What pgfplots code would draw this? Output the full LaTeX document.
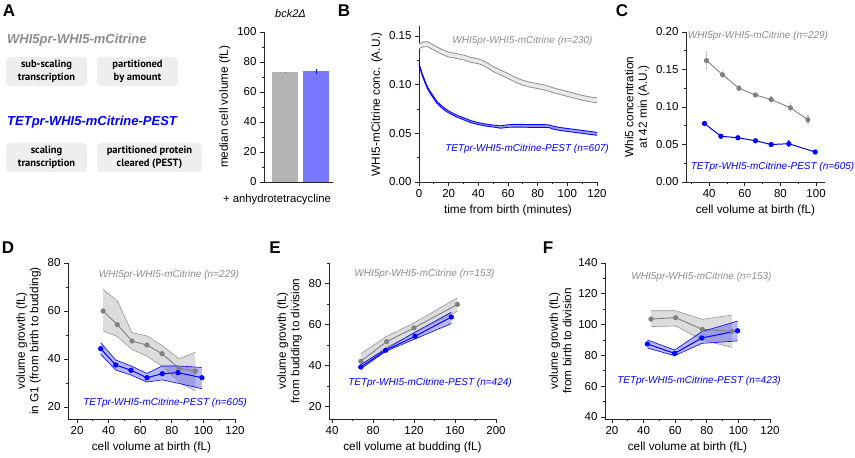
\documentclass[border=0pt]{standalone}
\usepackage{fontspec}
\setmainfont{Liberation Sans}
\newfontfamily\boxfont{PT Sans}
\usepackage{pgfplots}
\usepackage{pgfplotstable}
\usepgfplotslibrary{fillbetween}
\pgfplotsset{compat=1.18}
\definecolor{gline}{HTML}{808080}
\definecolor{gfill}{HTML}{DCDCDC}
\definecolor{gedge}{HTML}{989898}
\definecolor{gtext}{HTML}{8C8C8C}
\definecolor{bline}{HTML}{0000FF}
\definecolor{boxfill}{HTML}{EEEEEE}
\definecolor{gbar}{HTML}{B4B4B4}
\definecolor{bbar}{HTML}{7878FF}

\pgfplotstableread{
t m lo hi
0 0.1395 0.1370 0.1420
3 0.1415 0.1390 0.1440
6 0.1415 0.1390 0.1440
10 0.1380 0.1355 0.1405
15 0.1340 0.1315 0.1365
20 0.1310 0.1285 0.1335
25 0.1295 0.1270 0.1320
30 0.1280 0.1255 0.1305
35 0.1255 0.1230 0.1280
40 0.1240 0.1215 0.1265
43 0.1225 0.1200 0.1250
47 0.1190 0.1165 0.1215
50 0.1160 0.1135 0.1185
55 0.1125 0.1100 0.1150
60 0.1090 0.1065 0.1115
65 0.1050 0.1025 0.1075
70 0.1020 0.0995 0.1045
75 0.1000 0.0975 0.1025
80 0.0985 0.0960 0.1010
85 0.0970 0.0945 0.0995
90 0.0945 0.0920 0.0970
95 0.0925 0.0900 0.0950
100 0.0905 0.0880 0.0930
105 0.0885 0.0860 0.0910
110 0.0865 0.0840 0.0890
115 0.0850 0.0825 0.0875
120 0.0840 0.0815 0.0865
}\Bgray
\pgfplotstableread{
t m lo hi
0 0.1210 0.1200 0.1220
1 0.1160 0.1150 0.1170
2 0.1110 0.1100 0.1120
4 0.1030 0.1020 0.1040
6 0.0960 0.0950 0.0970
8 0.0910 0.0900 0.0920
10 0.0865 0.0855 0.0875
12 0.0820 0.0810 0.0830
15 0.0775 0.0765 0.0785
18 0.0740 0.0730 0.0750
20 0.0720 0.0710 0.0730
25 0.0680 0.0670 0.0690
30 0.0650 0.0640 0.0660
35 0.0620 0.0610 0.0630
40 0.0600 0.0590 0.0610
45 0.0585 0.0575 0.0595
50 0.0575 0.0565 0.0585
55 0.0565 0.0553 0.0577
60 0.0575 0.0562 0.0588
65 0.0578 0.0564 0.0592
70 0.0578 0.0564 0.0592
75 0.0575 0.0561 0.0589
80 0.0575 0.0561 0.0589
85 0.0575 0.0561 0.0589
88 0.0572 0.0558 0.0586
90 0.0560 0.0545 0.0575
95 0.0545 0.0530 0.0560
100 0.0535 0.0520 0.0550
105 0.0525 0.0510 0.0540
110 0.0515 0.0500 0.0530
115 0.0505 0.0490 0.0520
120 0.0495 0.0480 0.0510
}\Bblue
\pgfplotstableread{
x m e
38.5 0.162 0.013
47.5 0.143 0.005
56.7 0.125 0.004
66.0 0.116 0.003
74.8 0.110 0.004
85.6 0.099 0.006
95.4 0.083 0.006
}\Cgray
\pgfplotstableread{
x m e
37.4 0.078 0.003
46.6 0.061 0.002
56.1 0.059 0.002
66.0 0.055 0.002
74.8 0.050 0.002
84.7 0.051 0.005
99.5 0.040 0.003
}\Cblue
\pgfplotstableread{
x m lo hi
36.5 60.0 51.7 69.0
45.5 54.3 49.4 64.2
54.8 47.5 44.0 51.0
64.3 45.8 41.2 49.6
73.8 42.2 37.0 45.6
84.6 36.1 30.3 40.1
94.9 34.9 26.7 42.8
}\Dgray
\pgfplotstableread{
x m lo hi
35.0 44.3 42.0 46.8
44.5 37.5 35.4 39.6
54.2 35.3 33.3 37.1
64.3 32.2 30.4 34.0
74.0 33.9 31.3 37.1
83.9 34.3 29.9 37.1
99.1 32.2 27.6 36.5
}\Dblue
\pgfplotstableread{
x m lo hi
68.0 42.1 40.0 45.7
93.3 51.7 49.1 54.3
120.0 58.4 55.6 60.8
162.3 69.8 66.5 73.0
}\Egray
\pgfplotstableread{
x m lo hi
68.0 39.3 38.4 40.5
92.4 47.5 47.0 48.1
121.0 54.3 53.0 56.3
156.4 63.7 60.5 66.0
}\Eblue
\pgfplotstableread{
x m lo hi
44.7 103.6 98.7 109.0
60.3 104.5 99.1 109.0
77.2 96.9 90.0 103.4
95.9 95.6 85.2 106.2
}\Fgray
\pgfplotstableread{
x m lo hi
42.4 87.4 84.8 90.0
59.7 81.3 79.8 83.5
76.8 91.3 87.8 95.4
99.5 96.0 89.4 102.3
}\Fblue

\pgfplotsset{
  panel/.style={scale only axis, anchor=south west, clip=false,
    axis lines*=left, axis line style={line width=0.8pt, black!85, -},
    tick align=outside, major tick length=4pt, minor tick length=2.4pt,
    every tick/.style={line width=0.8pt, black!85},
    ticklabel style={font=\fontsize{11.5}{13}\selectfont},
    label style={font=\fontsize{11.8}{13.5}\selectfont},
    /pgf/number format/assume math mode=true},
}
\newcommand{\band}[4]{% table, name, fillstyle, edgestyle
  \addplot[draw=none, name path=#2u] table[x index=0, y=hi]{#1};
  \addplot[draw=none, name path=#2l] table[x index=0, y=lo]{#1};
  \addplot[#3] fill between[of=#2u and #2l];
  \addplot[#4] table[x index=0, y=hi]{#1};
  \addplot[#4] table[x index=0, y=lo]{#1};
}
\newcommand{\lab}[1]{\fontsize{10}{12}\selectfont\itshape #1}

\begin{document}
\begin{tikzpicture}[x=1pt,y=1pt]
% ---------- Panel A text ----------
\node[font=\fontsize{17}{20}\selectfont\bfseries] at (9,447) {A};
\node[anchor=west, inner sep=0, text=gtext, font=\fontsize{13}{15}\selectfont\bfseries\itshape] at (7,418) {WHI5pr-WHI5-mCitrine};
\node[anchor=west, inner sep=0, text=bline, font=\fontsize{13}{15}\selectfont\bfseries\itshape] at (7,336) {TETpr-WHI5-mCitrine-PEST};
\fill[boxfill, rounded corners=4pt] (6,372) rectangle (87,401);
\fill[boxfill, rounded corners=4pt] (97,372) rectangle (178,401);
\fill[boxfill, rounded corners=4pt] (6,286) rectangle (87,315);
\fill[boxfill, rounded corners=4pt] (97,286) rectangle (202,315);
\node[align=center, font=\boxfont\bfseries\fontsize{10.5}{12.5}\selectfont] at (46.5,386.5) {sub-scaling\\transcription};
\node[align=center, font=\boxfont\bfseries\fontsize{10.5}{12.5}\selectfont] at (137.5,386.5) {partitioned\\by amount};
\node[align=center, font=\boxfont\bfseries\fontsize{10.5}{12.5}\selectfont] at (46.5,300.5) {scaling\\transcription};
\node[align=center, font=\boxfont\bfseries\fontsize{10.5}{12.5}\selectfont] at (149.5,300.5) {partitioned protein\\cleared (PEST)};
\node[font=\fontsize{11}{13}\selectfont\itshape] at (290.5,444) {bck2Δ};
\node[font=\fontsize{11.3}{13}\selectfont] at (277,258) {+ anhydrotetracycline};
% ---------- Panel A bars ----------
\begin{axis}[panel, at={(264pt,276pt)}, width=69pt, height=150pt,
  xmin=264, xmax=333, ymin=0, ymax=100, xtick=\empty,
  ytick={0,20,40,60,80,100}, minor ytick={10,30,50,70,90},
  ylabel={median cell volume (fL)}]
\addplot[ybar, bar width=26pt, bar shift=0pt, fill=gbar, draw=none,
  error bars/.cd, y dir=both, y explicit, error mark=none,
  error bar style={line width=0.9pt, black!60}] coordinates {(285,73.0) +- (0,0.6)};
\addplot[ybar, bar width=26pt, bar shift=0pt, fill=bbar, draw=none,
  error bars/.cd, y dir=both, y explicit, error mark=none,
  error bar style={line width=1pt, bline}] coordinates {(316,73.8) +- (0,1.5)};
\end{axis}
% ---------- Panel B ----------
\node[font=\fontsize{17}{20}\selectfont\bfseries] at (344,447) {B};
\begin{axis}[panel, at={(419pt,276pt)}, width=178pt, height=155.7pt,
  xmin=0, xmax=120, ymin=0, ymax=0.16,
  xtick={0,20,...,120}, minor xtick={10,30,...,110},
  ytick={0,0.05,0.10,0.15}, minor ytick={0.025,0.075,0.125},
  yticklabel style={/pgf/number format/.cd, fixed, fixed zerofill, precision=2},
  xlabel={time from birth (minutes)}, ylabel={WHI5-mCitrine conc. (A.U.)}]
\band{\Bgray}{bg}{fill=gfill!60}{draw=gline!90, line width=0.8pt}
\band{\Bblue}{bb}{fill=bline!35}{draw=bline, line width=0.9pt}
\end{axis}
\node[text=gtext] at (522.5,417) {\lab{WHI5pr-WHI5-mCitrine (n=230)}};
\node[text=bline] at (527,309) {\lab{TETpr-WHI5-mCitrine-PEST (n=607)}};
% ---------- Panel C ----------
\node[font=\fontsize{17}{20}\selectfont\bfseries] at (622,447) {C};
\begin{axis}[panel, at={(686pt,276pt)}, width=139pt, height=150pt,
  xmin=27, xmax=105, ymin=0, ymax=0.2,
  xtick={40,60,80,100}, minor xtick={30,50,70,90},
  ytick={0,0.05,...,0.2}, minor ytick={0.025,0.075,0.125,0.175},
  yticklabel style={/pgf/number format/.cd, fixed, fixed zerofill, precision=2},
  xlabel={cell volume at birth (fL)},
  ylabel={Whi5 concentration\\at 42 min (A.U.)}, ylabel style={align=center}]
\addplot[gline, line width=0.9pt, mark=*, mark size=2.1pt,
  error bars/.cd, y dir=both, y explicit, error mark=none,
  error bar style={line width=1.6pt, black!25}] table[x=x, y=m, y error=e]{\Cgray};
\addplot[bline, line width=1pt, mark=*, mark size=2.1pt,
  error bars/.cd, y dir=both, y explicit, error mark=none,
  error bar style={line width=1.2pt, bline}] table[x=x, y=m, y error=e]{\Cblue};
\end{axis}
\node[text=gtext] at (758,422) {\lab{WHI5pr-WHI5-mCitrine (n=229)}};
\node[text=bline] at (772.5,291) {\lab{TETpr-WHI5-mCitrine-PEST (n=605)}};
% ---------- Panel D ----------
\node[font=\fontsize{17}{20}\selectfont\bfseries] at (8,210) {D};
\begin{axis}[panel, at={(68pt,39pt)}, width=167pt, height=156pt,
  xmin=14.3, xmax=120, ymin=15, ymax=80,
  xtick={20,40,...,120}, minor xtick={30,50,...,110},
  ytick={20,40,60,80}, minor ytick={30,50,70},
  xlabel={cell volume at birth (fL)},
  ylabel={volume growth (fL)\\in G1 (from birth to budding)}, ylabel style={align=center}]
\band{\Dgray}{dg}{fill=gfill}{draw=gedge, line width=0.6pt}
\addplot[gline, line width=0.9pt, mark=*, mark size=2.1pt] table[x=x, y=m]{\Dgray};
\band{\Dblue}{db}{fill=bline, fill opacity=0.28}{draw=bline, line width=0.6pt}
\addplot[bline, line width=1pt, mark=*, mark size=2.1pt] table[x=x, y=m]{\Dblue};
\end{axis}
\node[text=gtext] at (169,183) {\lab{WHI5pr-WHI5-mCitrine (n=229)}};
\node[text=bline] at (165,55) {\lab{TETpr-WHI5-mCitrine-PEST (n=605)}};
% ---------- Panel E ----------
\node[font=\fontsize{17}{20}\selectfont\bfseries] at (275,210) {E};
\begin{axis}[panel, at={(329pt,39pt)}, width=167pt, height=156pt,
  xmin=37, xmax=200, ymin=14, ymax=90,
  xtick={40,80,...,200}, minor xtick={60,100,...,180},
  ytick={20,40,60,80}, minor ytick={30,50,70,90},
  xlabel={cell volume at budding (fL)},
  ylabel={volume growth (fL)\\from budding to division}, ylabel style={align=center}]
\band{\Egray}{eg}{fill=gfill}{draw=gedge, line width=0.6pt}
\addplot[gline, line width=0.9pt, mark=*, mark size=2.1pt] table[x=x, y=m]{\Egray};
\band{\Eblue}{eb}{fill=bline, fill opacity=0.28}{draw=bline, line width=0.6pt}
\addplot[bline, line width=1pt, mark=*, mark size=2.1pt] table[x=x, y=m]{\Eblue};
\end{axis}
\node[text=gtext] at (424.5,184) {\lab{WHI5pr-WHI5-mCitrine (n=153)}};
\node[text=bline] at (430,75) {\lab{TETpr-WHI5-mCitrine-PEST (n=424)}};
% ---------- Panel F ----------
\node[font=\fontsize{17}{20}\selectfont\bfseries] at (548,210) {F};
\begin{axis}[panel, at={(605pt,39pt)}, width=165pt, height=156pt,
  xmin=15.6, xmax=120, ymin=38.7, ymax=140,
  xtick={20,40,...,120}, minor xtick={30,50,...,110},
  ytick={40,60,...,140}, minor ytick={50,70,...,130},
  xlabel={cell volume at birth (fL)},
  ylabel={volume growth (fL)\\from birth to division}, ylabel style={align=center}]
\band{\Fgray}{fg}{fill=gfill}{draw=gedge, line width=0.6pt}
\addplot[gline, line width=0.9pt, mark=*, mark size=2.1pt] table[x=x, y=m]{\Fgray};
\band{\Fblue}{fb}{fill=bline, fill opacity=0.28}{draw=bline, line width=0.6pt}
\addplot[bline, line width=1pt, mark=*, mark size=2.1pt] table[x=x, y=m]{\Fblue};
\end{axis}
\node[text=gtext] at (701.5,181) {\lab{WHI5pr-WHI5-mCitrine (n=153)}};
\node[text=bline] at (699,77) {\lab{TETpr-WHI5-mCitrine-PEST (n=423)}};
\pgfresetboundingbox
\path[use as bounding box] (0,0) rectangle (855,458);
\end{tikzpicture}
\end{document}
